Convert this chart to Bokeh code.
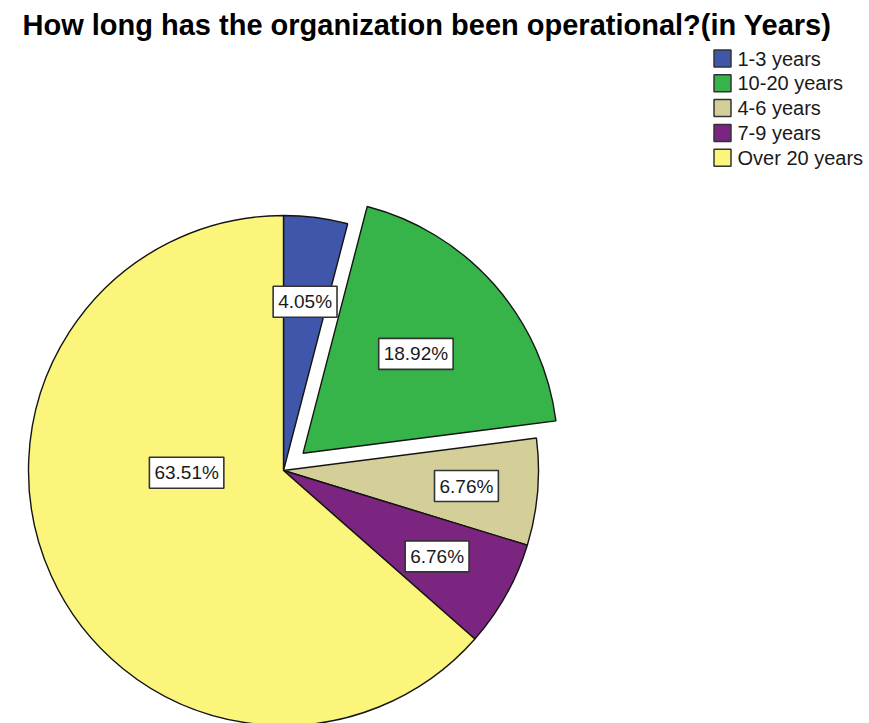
import math
from bokeh.plotting import figure
from bokeh.models import Range1d, ColumnDataSource
from bokeh.core.properties import value
from bokeh.embed import file_html
from bokeh.resources import INLINE

# ---- data ----
categories = ["1-3 years", "10-20 years", "4-6 years", "7-9 years", "Over 20 years"]
percents = [4.05, 18.92, 6.76, 6.76, 63.51]
colors = ["#3f56aa", "#36b44a", "#d4cf98", "#7b2581", "#fbf57b"]
exploded = [False, True, False, False, False]
title_text = "How long has the organization been operational?(in Years)"

# ---- layout constants (screen px, y measured from top) ----
W, H = 869, 723
CX, CY = 283, 470
R = 255
EXPLODE = 26
label_rfrac = [0.667, 0.59, 0.72, 0.69, 0.38]
label_shift_deg = [0, 0, 0, 0, 23]
FONT = "Liberation Sans"

def Y(py):
    return H - py

p = figure(width=W, height=H, x_range=Range1d(0, W), y_range=Range1d(0, H),
           output_backend="svg", toolbar_location=None, min_border=0)
p.axis.visible = False
p.grid.visible = False
p.outline_line_color = None
p.background_fill_color = "white"
p.border_fill_color = "white"

total = sum(percents)
xs, ys, starts, ends, lx, ly, labels = [], [], [], [], [], [], []
cum = 0.0
for i, v in enumerate(percents):
    f0 = cum / total
    f1 = (cum + v) / total
    cum += v
    mid = (f0 + f1) / 2 * 2 * math.pi  # clockwise from top
    ox = oy = 0.0
    if exploded[i]:
        ox = EXPLODE * math.sin(mid)
        oy = EXPLODE * math.cos(mid)
    cx = CX + ox
    cy = Y(CY) + oy
    xs.append(cx)
    ys.append(cy)
    starts.append(math.pi / 2 - f0 * 2 * math.pi)
    ends.append(math.pi / 2 - f1 * 2 * math.pi)
    la = mid + math.radians(label_shift_deg[i])
    lr = R * label_rfrac[i]
    lx.append(cx + lr * math.sin(la))
    ly.append(cy + lr * math.cos(la))
    labels.append(f"{v:.2f}%")

src = ColumnDataSource(dict(x=xs, y=ys, start=starts, end=ends, color=colors,
                            lx=lx, ly=ly, label=labels, cat=categories))

p.wedge(x="x", y="y", radius=R, start_angle="start", end_angle="end",
        direction="clock", fill_color="color", line_color="#141414",
        line_width=1.4, source=src)

p.text(x="lx", y="ly", text="label", source=src, text_font=value(FONT),
       text_font_size="19px", text_color="#1a1a1a", text_align="center",
       text_baseline="middle", background_fill_color="white",
       border_line_color="#333333", border_line_width=1.6, padding=5)

# ---- legend ----
LX, LY0, LDY, BOX = 722, 58, 24.8, 17
leg_x = [LX] * len(categories)
leg_y = [Y(LY0 + i * LDY) for i in range(len(categories))]
leg_tx = [LX + 15] * len(categories)
lsrc = ColumnDataSource(dict(x=leg_x, y=leg_y, tx=leg_tx, cat=categories, color=colors))
p.rect(x="x", y="y", width=BOX, height=BOX, fill_color="color",
       line_color="#333333", line_width=1.5, source=lsrc)
p.text(x="tx", y="y", text="cat", source=lsrc, text_font=value(FONT),
       text_font_size="20px", text_color="#1a1a1a", text_align="left",
       text_baseline="middle")

# ---- title ----
p.text(x=[22], y=[Y(24)], text=[title_text], text_font=value(FONT),
       text_font_size="29px", text_font_style="bold", text_color="black",
       text_align="left", text_baseline="middle")

open("out.html", "w").write(file_html(p, INLINE))
